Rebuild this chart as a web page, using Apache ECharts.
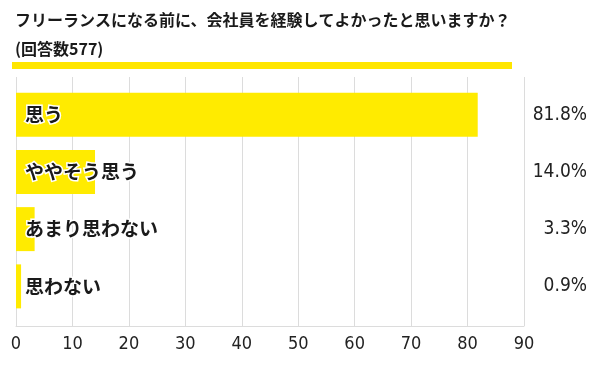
<!DOCTYPE html>
<html><head><meta charset="utf-8">
<script src="https://cdn.jsdelivr.net/npm/echarts@6/dist/echarts.min.js"></script>
<style>html,body{margin:0;padding:0;background:#fff}#c{width:600px;height:368px}</style>
</head><body><div id="c"></div>
<script>
const titleText = 'フリーランスになる前に、会社員を経験してよかったと思いますか？';
const subtitleText = '(回答数577)';
const categories = ['思う', 'ややそう思う', 'あまり思わない', '思わない'];
const values = [81.8, 14.0, 3.3, 0.9];
const pctLabels = values.map(v => v.toFixed(1) + '%');
const xTicks = [0, 10, 20, 30, 40, 50, 60, 70, 80, 90];

const numFont = '"DejaVu Sans Condensed", "Liberation Sans Narrow", sans-serif';
const jpFont = '"Noto Sans CJK JP", sans-serif';
const chart = echarts.init(document.getElementById('c'));
chart.setOption({
  animation: false,
  backgroundColor: '#fff',
  title: [
    {text: titleText, left: 10, top: 7, textStyle: {fontFamily: jpFont, fontSize: 16, fontWeight: 'bold', color: '#1a1a1a'}},
    {text: subtitleText, left: 10, top: 36, textStyle: {fontFamily: jpFont, fontSize: 16, fontWeight: 'bold', color: '#1a1a1a'}}
  ],
  graphic: [{type: 'rect', shape: {x: 12, y: 62, width: 500, height: 7}, style: {fill: '#FFE600'}}],
  grid: [
    {left: 16, right: 76, top: 77, bottom: 42},
    {left: 16, right: 76, top: 86, bottom: 53}
  ],
  xAxis: [
    {gridIndex: 0, type: 'value', min: xTicks[0], max: xTicks[xTicks.length - 1], interval: 10,
     axisLine: {show: true, lineStyle: {color: '#dcdcdc', width: 1}}, axisTick: {show: false},
     splitLine: {show: true, lineStyle: {color: '#dcdcdc', width: 1}},
     axisLabel: {fontFamily: numFont, fontSize: 18, color: '#222', margin: 9}},
    {gridIndex: 1, type: 'value', min: xTicks[0], max: xTicks[xTicks.length - 1], show: false, splitLine: {show: false}}
  ],
  yAxis: [
    {gridIndex: 0, type: 'value', show: false, splitLine: {show: false}},
    {gridIndex: 1, type: 'category', data: categories, inverse: true, show: false},
    {gridIndex: 1, type: 'category', data: pctLabels, inverse: true, position: 'right',
     axisLine: {show: false}, axisTick: {show: false}, splitLine: {show: false},
     axisLabel: {align: 'right', margin: 63, fontFamily: numFont, fontSize: 19, color: '#222'}}
  ],
  series: [{
    type: 'bar', xAxisIndex: 1, yAxisIndex: 1, data: values, barWidth: 44,
    itemStyle: {color: '#FFEB00'},
    label: {show: true, position: 'insideLeft', distance: 9, formatter: '{b}',
      fontFamily: jpFont, fontSize: 19, fontWeight: 'bold', color: '#1a1a1a',
      textBorderColor: '#fff', textBorderWidth: 3}
  }]
});
</script></body></html>
